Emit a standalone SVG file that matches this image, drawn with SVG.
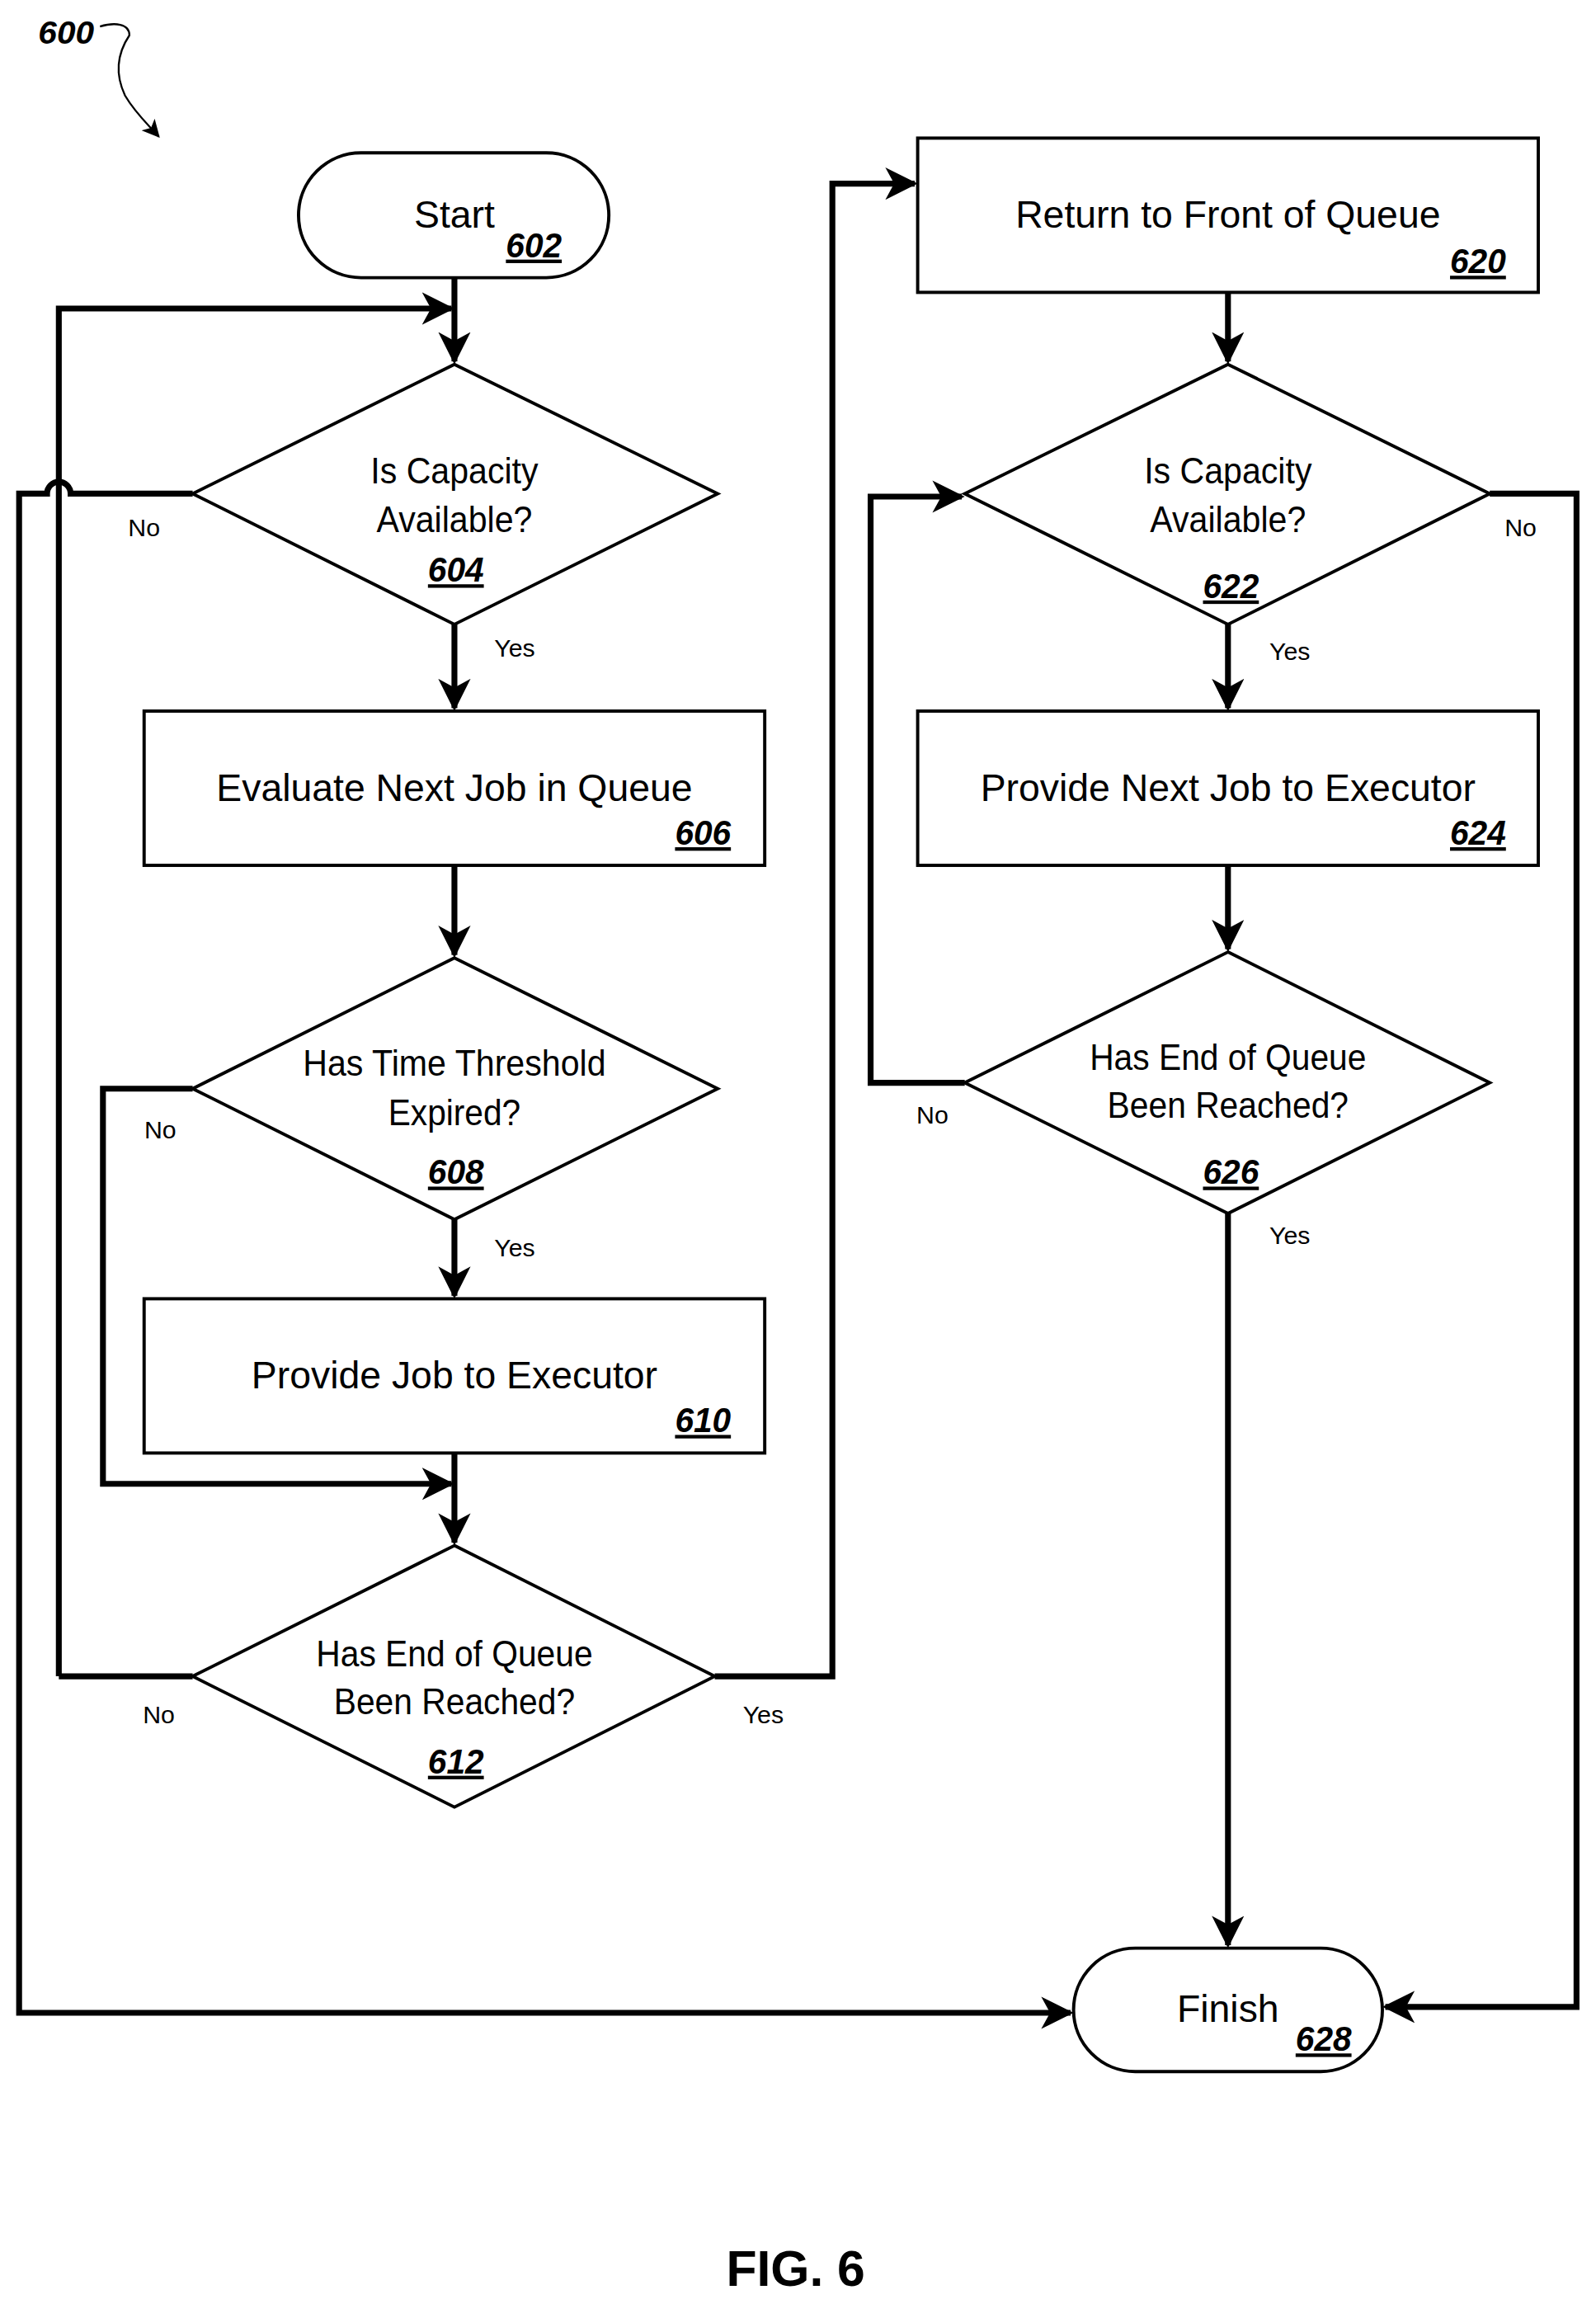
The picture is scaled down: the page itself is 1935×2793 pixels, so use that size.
<svg xmlns="http://www.w3.org/2000/svg" width="1935" height="2793" viewBox="0 0 1935 2793">
<style>
.s{fill:#fff;stroke:#000;stroke-width:2.2}
.c{fill:none;stroke:#000;stroke-width:4}
.t{font-family:"Liberation Sans",Arial,sans-serif;font-size:26px;text-anchor:middle;fill:#000}
.d{font-family:"Liberation Sans",Arial,sans-serif;font-size:25px;text-anchor:middle;fill:#000}
.n{font-family:"Liberation Sans",Arial,sans-serif;font-size:24px;font-weight:bold;font-style:italic;text-anchor:middle;text-decoration:underline;fill:#000}
.l{font-family:"Liberation Sans",Arial,sans-serif;font-size:17px;text-anchor:middle;fill:#000}
</style>
<defs>
<marker id="a" markerUnits="userSpaceOnUse" markerWidth="22" markerHeight="22" viewBox="0 0 22 22" refX="20" refY="11" orient="auto">
<path d="M0,0 L22,11 L0,22 L6,11 Z" fill="#000"/>
</marker>
<marker id="b" markerUnits="userSpaceOnUse" markerWidth="12" markerHeight="12" viewBox="0 0 12 12" refX="11" refY="6" orient="auto">
<path d="M0,0 L12,6 L0,12 L3,6 Z" fill="#000"/>
</marker>
</defs>
<rect width="1935" height="2793" fill="#fff"/>
<g transform="scale(1.783,1.781)">
<g id="label600">
<text x="45" y="30" font-family="Liberation Sans,Arial,sans-serif" font-size="22" font-weight="bold" font-style="italic" text-anchor="middle" textLength="38" lengthAdjust="spacingAndGlyphs">600</text>
<path d="M68,18 C78,15 88,16 88,24 C80,36 78,50 85,65 C92,77 100,84 108,93" fill="none" stroke="#000" stroke-width="1.3" marker-end="url(#b)"/>
</g>
<g id="connectors">
<path class="c" d="M309,189 V246" marker-end="url(#a)"/>
<path class="c" d="M40,1141 V210 H307" marker-end="url(#a)"/>
<path class="c" d="M131,336 H48 A8,8 0 0 0 32,336 H13 V1370 H728" marker-end="url(#a)"/>
<path class="c" d="M309,425 V482" marker-end="url(#a)"/>
<path class="c" d="M309,589 V650" marker-end="url(#a)"/>
<path class="c" d="M309,830 V882" marker-end="url(#a)"/>
<path class="c" d="M131,741 H70 V1010 H307" marker-end="url(#a)"/>
<path class="c" d="M309,989 V1050" marker-end="url(#a)"/>
<path class="c" d="M131,1141 H40"/>
<path class="c" d="M486,1141 H566 V125 H622" marker-end="url(#a)"/>
<path class="c" d="M835,199 V246" marker-end="url(#a)"/>
<path class="c" d="M1013,336 H1072 V1366 H942" marker-end="url(#a)"/>
<path class="c" d="M835,425 V482" marker-end="url(#a)"/>
<path class="c" d="M835,589 V646" marker-end="url(#a)"/>
<path class="c" d="M656,737 H592 V338 H654" marker-end="url(#a)"/>
<path class="c" d="M835,826 V1324" marker-end="url(#a)"/>
<text class="l" x="98" y="365">No</text>
<text class="l" x="350" y="447">Yes</text>
<text class="l" x="109" y="775">No</text>
<text class="l" x="350" y="855">Yes</text>
<text class="l" x="108" y="1173">No</text>
<text class="l" x="519" y="1173">Yes</text>
<text class="l" x="1034" y="365">No</text>
<text class="l" x="877" y="449">Yes</text>
<text class="l" x="634" y="765">No</text>
<text class="l" x="877" y="847">Yes</text>
</g>
<g id="n602"><rect class="s" x="203" y="104" width="211" height="85" rx="42.5"/><text class="t" x="309" y="155">Start</text><text class="n" x="363" y="175" textLength="38" lengthAdjust="spacingAndGlyphs">602</text></g>
<g id="n604"><path class="s" d="M309,248 L488,336 L309,425 L131,336 Z"/><text class="d" x="309" y="329" textLength="114" lengthAdjust="spacingAndGlyphs">Is Capacity</text><text class="d" x="309" y="362" textLength="106" lengthAdjust="spacingAndGlyphs">Available?</text><text class="n" x="310" y="396" textLength="38" lengthAdjust="spacingAndGlyphs">604</text></g>
<g id="n606"><rect class="s" x="98" y="484" width="422" height="105"/><text class="t" x="309" y="545">Evaluate Next Job in Queue</text><text class="n" x="478" y="575" textLength="38" lengthAdjust="spacingAndGlyphs">606</text></g>
<g id="n608"><path class="s" d="M309,652 L488,741 L309,830 L131,741 Z"/><text class="d" x="309" y="732" textLength="206" lengthAdjust="spacingAndGlyphs">Has Time Threshold</text><text class="d" x="309" y="766" textLength="90" lengthAdjust="spacingAndGlyphs">Expired?</text><text class="n" x="310" y="806" textLength="38" lengthAdjust="spacingAndGlyphs">608</text></g>
<g id="n610"><rect class="s" x="98" y="884" width="422" height="105"/><text class="t" x="309" y="945">Provide Job to Executor</text><text class="n" x="478" y="975" textLength="38" lengthAdjust="spacingAndGlyphs">610</text></g>
<g id="n612"><path class="s" d="M309,1052 L486,1141 L309,1230 L131,1141 Z"/><text class="d" x="309" y="1134" textLength="188" lengthAdjust="spacingAndGlyphs">Has End of Queue</text><text class="d" x="309" y="1167" textLength="164" lengthAdjust="spacingAndGlyphs">Been Reached?</text><text class="n" x="310" y="1207" textLength="38" lengthAdjust="spacingAndGlyphs">612</text></g>
<g id="n620"><rect class="s" x="624" y="94" width="422" height="105"/><text class="t" x="835" y="155">Return to Front of Queue</text><text class="n" x="1005" y="186" textLength="38" lengthAdjust="spacingAndGlyphs">620</text></g>
<g id="n622"><path class="s" d="M835,248 L1013,336 L835,425 L656,336 Z"/><text class="d" x="835" y="329" textLength="114" lengthAdjust="spacingAndGlyphs">Is Capacity</text><text class="d" x="835" y="362" textLength="106" lengthAdjust="spacingAndGlyphs">Available?</text><text class="n" x="837" y="407" textLength="38" lengthAdjust="spacingAndGlyphs">622</text></g>
<g id="n624"><rect class="s" x="624" y="484" width="422" height="105"/><text class="t" x="835" y="545">Provide Next Job to Executor</text><text class="n" x="1005" y="575" textLength="38" lengthAdjust="spacingAndGlyphs">624</text></g>
<g id="n626"><path class="s" d="M835,648 L1013,737 L835,826 L656,737 Z"/><text class="d" x="835" y="728" textLength="188" lengthAdjust="spacingAndGlyphs">Has End of Queue</text><text class="d" x="835" y="761" textLength="164" lengthAdjust="spacingAndGlyphs">Been Reached?</text><text class="n" x="837" y="806" textLength="38" lengthAdjust="spacingAndGlyphs">626</text></g>
<g id="n628"><rect class="s" x="730" y="1326" width="210" height="84" rx="42"/><text class="t" x="835" y="1376">Finish</text><text class="n" x="900" y="1396" textLength="38" lengthAdjust="spacingAndGlyphs">628</text></g>
<text x="541" y="1556" font-family="Liberation Sans,Arial,sans-serif" font-size="34" font-weight="bold" text-anchor="middle">FIG. 6</text>
</g>
</svg>
